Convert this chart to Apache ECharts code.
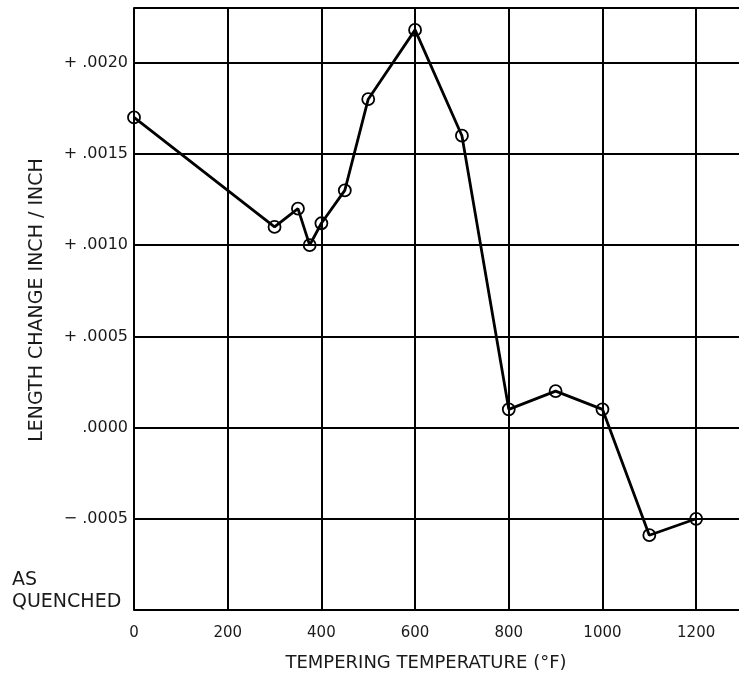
<!DOCTYPE html>
<html lang="en">

<head>
    <meta charset="UTF-8">
    <title>Tempering length change</title>
    <style>
        * {
            margin: 0;
            padding: 0;
        }

        body {
            background: #fff;
        }

        .mychart {
            width: 739px;
            height: 679px;
        }
    </style>
</head>

<body>
    <div class="mychart"></div>
</body>
<script src="https://cdn.jsdelivr.net/npm/echarts@6/dist/echarts.min.js"></script>
<script>
    // tempering temperature (F) and length change (inch/inch)
    const temps = [0, 300, 350, 375, 400, 450, 500, 600, 700, 800, 900, 1000, 1100, 1200]
    const change = [0.0017, 0.0011, 0.0012, 0.0010, 0.00112, 0.0013, 0.0018, 0.00218, 0.0016, 0.0001, 0.0002, 0.0001, -0.00059, -0.0005]

    const xTicks = [0, 200, 400, 600, 800, 1000, 1200]
    const yTickValues = [-0.0005, 0, 0.0005, 0.0010, 0.0015, 0.0020]
    const yTickLabels = ['\u2212 .0005', '.0000', '+ .0005', '+ .0010', '+ .0015', '+ .0020']

    const myChart = echarts.init(document.querySelector('.mychart'))

    const font = '"DejaVu Sans", Arial, sans-serif'

    const config = {
        animation: false,
        grid: {
            left: 134,
            top: 8,
            width: 609,
            height: 602,
            outerBoundsMode: 'none',
            containLabel: false
        },
        xAxis: {
            type: 'value',
            min: 0,
            max: 1300,
            interval: 200,
            axisLine: { lineStyle: { color: '#000', width: 2 } },
            axisTick: { show: false },
            axisLabel: {
                margin: 16,
                color: '#1a1a1a',
                fontSize: 15,
                fontFamily: font,
                formatter: function (v) {
                    return xTicks.indexOf(v) >= 0 ? String(v) : ''
                }
            },
            splitLine: { show: true, lineStyle: { color: '#000', width: 2 } }
        },
        yAxis: {
            type: 'value',
            min: -0.001,
            max: 0.0023,
            interval: 0.0005,
            axisLine: { show: true, lineStyle: { color: '#000', width: 2 } },
            axisTick: { show: false },
            axisLabel: {
                margin: 6,
                color: '#1a1a1a',
                fontSize: 16,
                fontFamily: font,
                formatter: function (v) {
                    for (let i = 0; i < yTickValues.length; i++) {
                        if (Math.abs(yTickValues[i] - v) < 1e-9) return yTickLabels[i]
                    }
                    return ''
                }
            },
            splitLine: { show: true, lineStyle: { color: '#000', width: 2 } }
        },
        graphic: [
            {
                type: 'text',
                x: 37,
                y: 300,
                rotation: Math.PI / 2,
                style: {
                    text: 'LENGTH CHANGE INCH / INCH',
                    fill: '#1a1a1a',
                    font: '19px ' + font,
                    align: 'center',
                    verticalAlign: 'middle'
                }
            },
            {
                type: 'text',
                x: 426,
                y: 663,
                style: {
                    text: 'TEMPERING TEMPERATURE (\u00b0F)',
                    fill: '#1a1a1a',
                    font: '18px ' + font,
                    align: 'center',
                    verticalAlign: 'middle'
                }
            },
            {
                type: 'text',
                x: 12,
                y: 591,
                style: {
                    text: 'AS\nQUENCHED',
                    fill: '#1a1a1a',
                    font: '19px ' + font,
                    lineHeight: 22,
                    align: 'left',
                    verticalAlign: 'middle'
                }
            }
        ],
        series: [{
            type: 'line',
            data: temps.map((t, i) => [t, change[i]]),
            symbol: 'circle',
            symbolSize: 12,
            itemStyle: { color: 'rgba(255,255,255,0)', borderColor: '#000', borderWidth: 1.8 },
            lineStyle: { color: '#000', width: 2.8 },
            z: 5
        }]
    }

    myChart.setOption(config)
</script>

</html>
